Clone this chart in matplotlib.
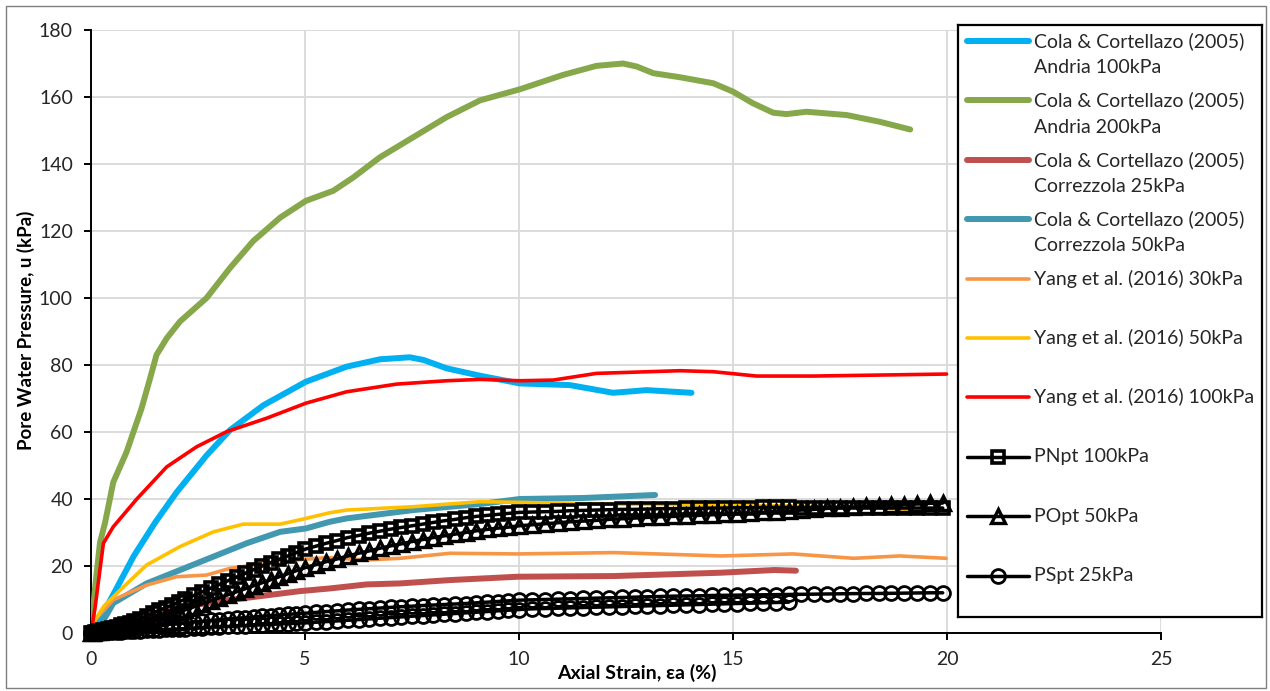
import matplotlib
matplotlib.use("Agg")
import matplotlib.pyplot as plt
from matplotlib.patches import Rectangle

plt.rcParams['font.family'] = ['Lato', 'DejaVu Sans']

# Cola & Cortellazo (2005)
andria100_x = [0, 0.2, 0.5, 1.0, 1.5, 2.0, 2.7, 3.25, 4.03, 5.02, 5.97, 6.75, 7.45, 7.77, 8.31, 9.09, 10.02, 11.19, 12.2, 12.98, 14.03]
andria100_y = [0, 4, 11, 23, 33, 42, 53, 60.6, 68, 75, 79.5, 81.7, 82.3, 81.5, 79, 76.8, 74.5, 74, 71.7, 72.5, 71.7]

andria200_x = [0, 0.1, 0.21, 0.33, 0.52, 0.83, 1.18, 1.38, 1.53, 1.77, 2.08, 2.7, 3.25, 3.79, 4.42, 5.02, 5.66, 6.13, 6.75,
               7.53, 8.31, 9.09, 10.02, 11.03, 11.81, 12.43, 12.75, 13.14, 13.76, 14.54, 15.0, 15.47, 15.94, 16.25, 16.72,
               17.66, 18.43, 19.14]
andria200_y = [0, 14, 27, 33, 45, 54, 67, 76, 83, 88, 93, 100, 109, 117, 124, 129, 132, 136, 142,
               148, 154, 159, 162.3, 166.6, 169.3, 170, 169.1, 167.1, 165.9, 164.1, 161.6, 158.1, 155.3, 154.9, 155.6,
               154.6, 152.6, 150.3]

corr25_x = [0, 0.5, 1.0, 2.0, 3.0, 3.64, 4.88, 5.58, 6.44, 7.22, 8.39, 9.97, 12.22, 14.72, 15.97, 16.47]
corr25_y = [0, 2.5, 4.5, 7.5, 9.5, 10.5, 12.5, 13.3, 14.5, 14.8, 15.8, 16.8, 17, 18, 18.8, 18.6]

corr50_x = [0.2, 0.3, 0.52, 1.3, 2.08, 2.86, 3.64, 4.42, 5.02, 5.58, 5.97, 7.53, 9.09, 10.02, 11.5, 13.18]
corr50_y = [0, 4, 8.9, 14.8, 18.8, 22.8, 26.8, 30.2, 31.2, 33.2, 34.2, 36.7, 38.5, 40, 40.3, 41.2]

# Yang et al. (2016)
yang30_x = [0, 0.1, 0.52, 1.3, 2.0, 2.7, 3.25, 4.5, 5.5, 6.44, 7.22, 8.39, 9.97, 12.22, 14.72, 16.4, 17.82, 18.9, 19.98]
yang30_y = [0, 4, 9.9, 14.3, 16.8, 17.3, 19.3, 21.5, 22.5, 21.8, 22.3, 23.8, 23.6, 24, 23, 23.6, 22.3, 23, 22.3]

yang50_x = [0, 0.05, 0.3, 0.68, 1.3, 2.08, 2.86, 3.56, 4.42, 5.02, 5.58, 5.97, 7.53, 9.09, 10.0, 12.0, 14.0, 16.0, 18.0, 19.95]
yang50_y = [0, 3, 8, 12.8, 20.3, 25.8, 30.2, 32.5, 32.5, 34.2, 35.9, 36.7, 37.7, 39.2, 39, 38.5, 38.3, 38, 37.5, 36.5]

yang100_x = [0, 0.1, 0.17, 0.29, 0.44, 0.52, 1.07, 1.77, 2.47, 3.17, 4.1, 5.02, 5.97, 7.14, 8.31, 9.09, 10.02, 10.8,
             11.81, 13.76, 14.54, 15.55, 16.87, 18.43, 19.99]
yang100_y = [0, 8, 15, 26.8, 30, 31.7, 40, 49.6, 55.6, 60.1, 64.1, 68.6, 72, 74.3, 75.3, 75.7, 75.3, 75.5,
             77.5, 78.3, 78, 76.7, 76.7, 77, 77.3]

# test series, shared strain readings
strain = [0.0, 0.05, 0.1, 0.15, 0.2, 0.3, 0.4, 0.5, 0.6, 0.7,
          0.8, 0.9, 1.0, 1.15, 1.3, 1.45, 1.6, 1.75, 1.9, 2.05,
          2.2, 2.4, 2.6, 2.8, 3.0, 3.2, 3.4, 3.6, 3.8, 4.0,
          4.2, 4.4, 4.6, 4.8, 5.0, 5.25, 5.5, 5.75, 6.0, 6.25,
          6.5, 6.75, 7.0, 7.25, 7.5, 7.75, 8.0, 8.25, 8.5, 8.75,
          9.0, 9.25, 9.5, 9.75, 10.0, 10.3, 10.6, 10.9, 11.2, 11.5,
          11.8, 12.1, 12.4, 12.7, 13.0, 13.3, 13.6, 13.9, 14.2, 14.5,
          14.8, 15.1, 15.4, 15.7, 16.0, 16.3, 16.6, 16.9, 17.2, 17.5,
          17.8, 18.1, 18.4, 18.7, 19.0, 19.3, 19.6, 19.9]
pn100 = [0, 0.1, 0.3, 0.4, 0.6, 0.9, 1.2, 1.5, 1.9, 2.3,
         2.7, 3.1, 3.5, 4.3, 5.1, 6.0, 6.8, 7.6, 8.4, 9.3,
         10.1, 11.2, 12.3, 13.4, 14.5, 15.6, 16.7, 17.8, 18.9, 20.0,
         21.0, 22.0, 23.0, 24.0, 25.0, 25.9, 26.8, 27.6, 28.5, 29.1,
         29.8, 30.4, 31.0, 31.5, 32.0, 32.5, 33.0, 33.5, 33.9, 34.4,
         34.8, 35.1, 35.4, 35.7, 36.0, 36.1, 36.2, 36.3, 36.5, 36.6,
         36.7, 36.8, 36.9, 36.9, 37.0, 37.1, 37.1, 37.2, 37.2, 37.3,
         37.3, 37.4, 37.4, 37.5, 37.5, 37.5, 37.4, 37.4, 37.4, 37.3,
         37.3, 37.3, 37.3, 37.3, 37.3, 37.3, 37.3, 37.3]
po50 = [0, 0.1, 0.2, 0.3, 0.4, 0.6, 0.8, 1.0, 1.2, 1.5,
        1.7, 2.0, 2.2, 2.7, 3.3, 3.8, 4.4, 5.0, 5.6, 6.2,
        6.9, 7.8, 8.7, 9.6, 10.5, 11.4, 12.3, 13.2, 14.1, 15.0,
        15.9, 16.8, 17.7, 18.6, 19.5, 20.4, 21.3, 22.1, 23.0, 23.8,
        24.5, 25.3, 26.0, 26.6, 27.3, 27.9, 28.5, 29.0, 29.5, 30.0,
        30.5, 30.9, 31.3, 31.6, 32.0, 32.3, 32.6, 32.9, 33.2, 33.4,
        33.6, 33.9, 34.1, 34.3, 34.5, 34.7, 34.8, 35.0, 35.1, 35.3,
        35.4, 35.6, 35.8, 36.0, 36.2, 36.4, 36.7, 36.9, 37.2, 37.4,
        37.6, 37.9, 38.0, 38.2, 38.3, 38.5, 38.7, 38.8]
ps25 = [0, 0.1, 0.2, 0.3, 0.4, 0.5, 0.65, 0.8, 0.95, 1.1,
        1.25, 1.4, 1.55, 1.75, 1.95, 2.15, 2.3, 2.5, 2.7, 2.9,
        3.05, 3.3, 3.5, 3.75, 4.0, 4.2, 4.4, 4.6, 4.8, 5.0,
        5.2, 5.4, 5.55, 5.75, 5.9, 6.15, 6.4, 6.6, 6.85, 7.05,
        7.25, 7.45, 7.65, 7.85, 8.0, 8.2, 8.35, 8.5, 8.65, 8.8,
        9.0, 9.2, 9.4, 9.6, 9.8, 9.9, 10.0, 10.1, 10.2, 10.3,
        10.4, 10.5, 10.6, 10.7, 10.8, 10.9, 11.0, 11.05, 11.1, 11.2,
        11.25, 11.3, 11.35, 11.4, 11.45, 11.5, 11.55, 11.6, 11.65, 11.7,
        11.75, 11.8, 11.8, 11.85, 11.9, 11.95, 12.0, 12.0]
# second PSpt run (lower row of circles, stops near 16.3 %)
ps25_b = [0, 0.03, 0.06, 0.09, 0.12, 0.18, 0.24, 0.3, 0.36, 0.42,
          0.48, 0.54, 0.6, 0.69, 0.78, 0.87, 0.96, 1.05, 1.14, 1.23,
          1.3, 1.45, 1.55, 1.7, 1.8, 1.95, 2.05, 2.2, 2.3, 2.45,
          2.55, 2.7, 2.8, 2.9, 3.0, 3.2, 3.4, 3.6, 3.8, 4.0,
          4.2, 4.4, 4.6, 4.8, 5.0, 5.2, 5.4, 5.6, 5.8, 6.0,
          6.2, 6.4, 6.6, 6.8, 7.0, 7.2, 7.3, 7.4, 7.5, 7.6,
          7.7, 7.8, 7.9, 8.0, 8.1, 8.2, 8.3, 8.4, 8.5, 8.6,
          8.7, 8.8, 8.9, 9.0, 9.1, 9.2]

labels = ['Cola & Cortellazo (2005)\nAndria 100kPa', 'Cola & Cortellazo (2005)\nAndria 200kPa',
          'Cola & Cortellazo (2005)\nCorrezzola 25kPa', 'Cola & Cortellazo (2005)\nCorrezzola 50kPa',
          'Yang et al. (2016) 30kPa', 'Yang et al. (2016) 50kPa', 'Yang et al. (2016) 100kPa',
          'PNpt 100kPa', 'POpt 50kPa', 'PSpt 25kPa']

thick = 4.3
thin = 2.6
styles = [
    dict(color='#00B0F0', lw=thick),
    dict(color='#86A84A', lw=thick),
    dict(color='#C0504D', lw=thick),
    dict(color='#4198AF', lw=thick),
    dict(color='#F79646', lw=thin),
    dict(color='#FFC000', lw=thin),
    dict(color='#FF0000', lw=thin),
    dict(color='black', lw=2.5, marker='s', ms=8.5, mfc='none', mew=2.6),
    dict(color='black', lw=2.5, marker='^', ms=9.5, mfc='none', mew=2.4),
    dict(color='black', lw=2.5, marker='o', ms=10, mfc='none', mew=2.0),
]

series = [(andria100_x, andria100_y), (andria200_x, andria200_y), (corr25_x, corr25_y), (corr50_x, corr50_y),
          (yang30_x, yang30_y), (yang50_x, yang50_y), (yang100_x, yang100_y),
          (strain, pn100), (strain, po50), (strain, ps25)]

fig = plt.figure(figsize=(12.7, 6.91), dpi=100)
ax = fig.add_axes([91 / 1270, 1 - 633 / 691, 1070 / 1270, 603 / 691])

for i, (xs, ys) in enumerate(series):
    line, = ax.plot(xs, ys, solid_capstyle='round', zorder=3 + i, **styles[i])
    if i >= 7:
        line.set_clip_on(False)
ax.plot(strain[:len(ps25_b)], ps25_b, solid_capstyle='round', zorder=12, clip_on=False, **styles[9])

ax.set_xlim(0, 25)
ax.set_ylim(0, 180)
ax.set_xticks(range(0, 26, 5))
ax.set_yticks(range(0, 181, 20))
ax.grid(True, color='#d9d9d9', lw=1.3)
ax.set_axisbelow(True)
for s in ['top', 'right']:
    ax.spines[s].set_visible(False)
for s in ['left', 'bottom']:
    ax.spines[s].set_linewidth(1.4)
    ax.spines[s].set_color('black')
ax.tick_params(direction='out', length=5, width=1.4, labelsize=14, pad=8, colors='black')
for t in ax.get_xticklabels() + ax.get_yticklabels():
    t.set_color('#262626')

ax.set_xlabel('Axial Strain, εa (%)', fontsize=14, fontweight='bold')
ax.xaxis.set_label_coords(0.510, -0.052)
ax.set_ylabel('Pore Water Pressure, u (kPa)', fontsize=13.5, fontweight='bold')
ax.yaxis.set_label_coords(-0.0525, 0.502)

# legend box drawn in pixel units
lax = fig.add_axes([958 / 1270, 1 - 617 / 691, 304 / 1270, 592 / 691], zorder=20)
lax.set_xlim(958, 1262)
lax.set_ylim(617, 25)
lax.set_xticks([])
lax.set_yticks([])
for s in lax.spines.values():
    s.set_linewidth(1.6)
    s.set_color('black')
for i, lab in enumerate(labels):
    y = 41 + 59.4 * i
    st = dict(styles[i])
    if 'marker' in st:
        lax.plot([967, 1029], [y, y], color='black', lw=st['lw'], solid_capstyle='round')
        lax.plot([998], [y], linestyle='none', marker=st['marker'], ms=st['ms'], mfc='none',
                 mec='black', mew=st['mew'])
    else:
        lax.plot([967, 1029], [y, y], color=st['color'], lw=st['lw'], solid_capstyle='round')
    for k, part in enumerate(lab.split('\n')):
        lax.text(1034, y + 26.7 * k, part, fontsize=14, va='center', ha='left', color='#262626')

fig.patches.append(Rectangle((6 / 1270, 3 / 691), 1260 / 1270, 682 / 691, transform=fig.transFigure,
                             fill=False, ec='#7f7f7f', lw=1))

fig.savefig('out.png', dpi=100)
